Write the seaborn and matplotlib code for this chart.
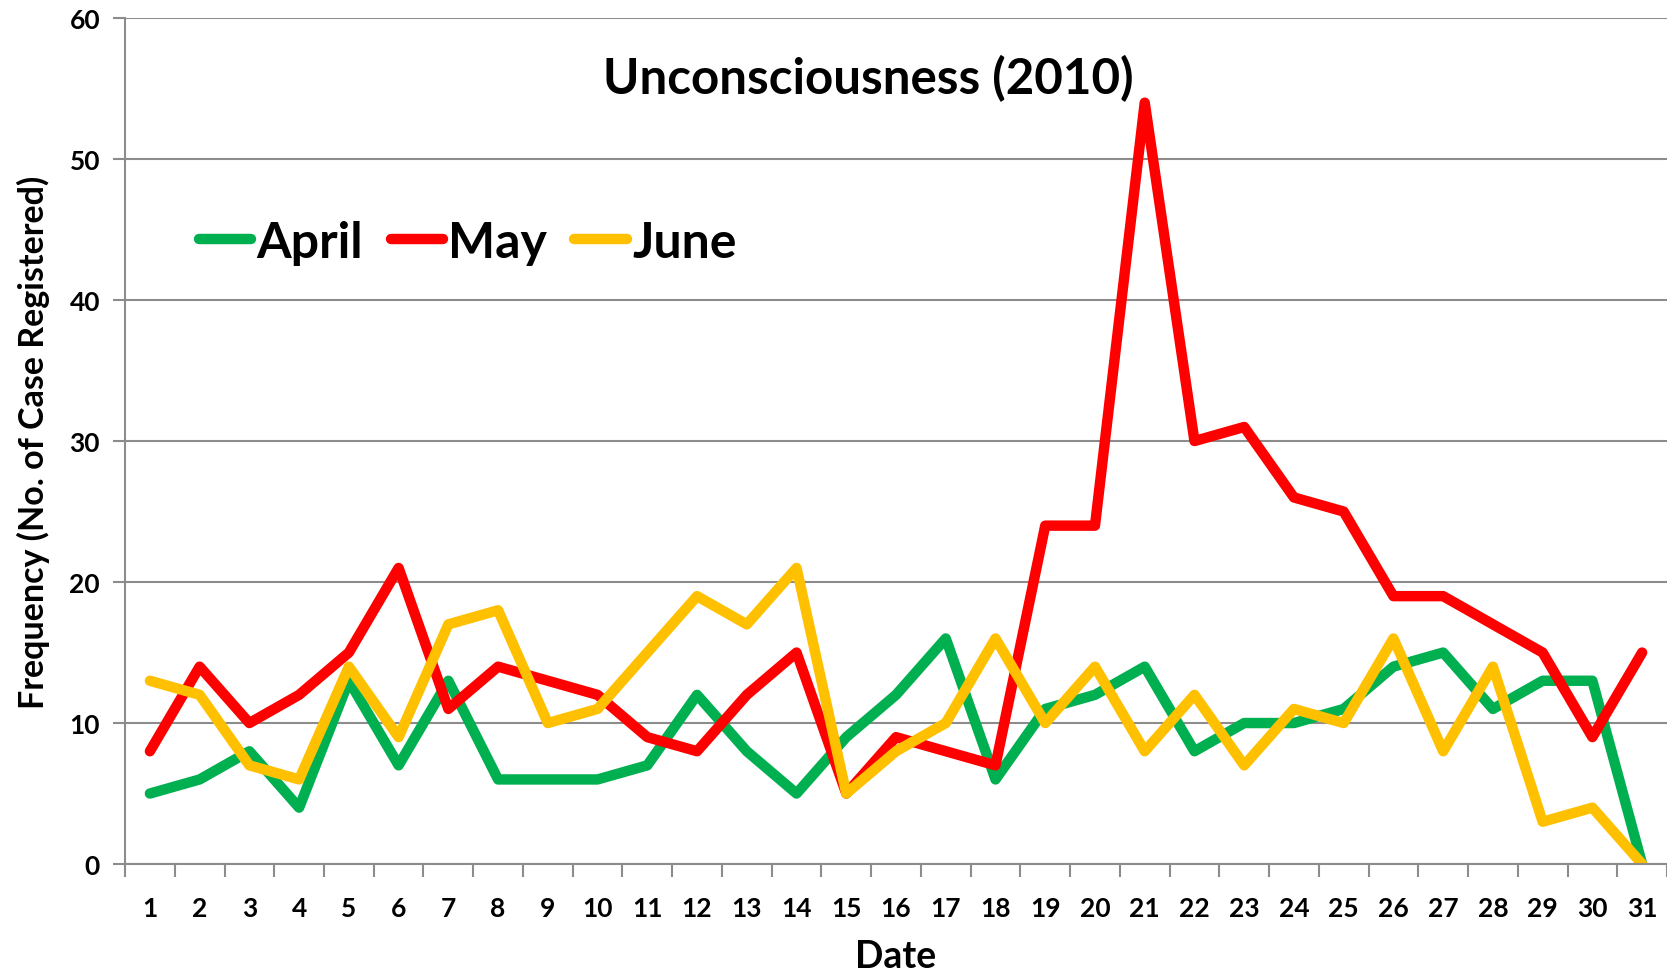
import numpy as np
import pandas as pd
import matplotlib
matplotlib.use("Agg")
import matplotlib.pyplot as plt
import seaborn as sns

days = list(range(1, 32))
april = [5, 6, 8, 4, 13, 7, 13, 6, 6, 6, 7, 12, 8, 5, 9, 12, 16, 6, 11, 12,
         14, 8, 10, 10, 11, 14, 15, 11, 13, 13, 0]
may = [8, 14, 10, 12, 15, 21, 11, 14, 13, 12, 9, 8, 12, 15, 5, 9, 8, 7, 24, 24,
       54, 30, 31, 26, 25, 19, 19, 17, 15, 9, 15]
june = [13, 12, 7, 6, 14, 9, 17, 18, 10, 11, 15, 19, 17, 21, 5, 8, 10, 16, 10, 14,
        8, 12, 7, 11, 10, 16, 8, 14, 3, 4, 0]
months = ["April", "May", "June"]
colors = ["#00B050", "#FF0000", "#FFC000"]

df = pd.DataFrame({
    "Date": days * 3,
    "Frequency": april + may + june,
    "Month": np.repeat(months, len(days)),
})

sns.set_style("white")
plt.rcParams["font.family"] = ["Lato", "DejaVu Sans"]
plt.rcParams["font.weight"] = "bold"
plt.rcParams["text.color"] = "black"
plt.rcParams["axes.labelcolor"] = "black"
plt.rcParams["xtick.labelcolor"] = "black"
plt.rcParams["ytick.labelcolor"] = "black"

fig = plt.figure(figsize=(16.67, 9.78), dpi=100)
ax = fig.add_axes([0.075, 0.1155, 0.925, 0.865])

sns.lineplot(data=df, x="Date", y="Frequency", hue="Month", hue_order=months,
             palette=colors, linewidth=7.5, ax=ax,
             solid_capstyle="round", solid_joinstyle="round")

ax.set_xlim(0.5, 31.5)
ax.set_ylim(0, 60)
ax.set_yticks(range(0, 61, 10))
ax.set_xticks(days)
ax.set_xticks(np.arange(0.5, 32, 1), minor=True)
ax.tick_params(axis="x", which="major", length=0, pad=23, labelsize=19,
               labelcolor="black")
ax.tick_params(axis="x", which="minor", length=9, width=1.5, color="#8c8c8c",
               direction="out", bottom=True)
ax.tick_params(axis="y", length=9, width=1.5, color="#8c8c8c", pad=9,
               labelsize=19, left=True, labelcolor="black")
for lab in ax.get_xticklabels() + ax.get_yticklabels():
    lab.set_fontweight("bold")

ax.grid(axis="y", color="#8c8c8c", linewidth=1.5)
ax.set_axisbelow(True)
for s in ["top", "right"]:
    ax.spines[s].set_visible(False)
for s in ["left", "bottom"]:
    ax.spines[s].set_color("#8c8c8c")
    ax.spines[s].set_linewidth(1.5)

ax.set_xlabel("Date", fontsize=27, fontweight="bold", labelpad=14,
              color="black")
ax.set_ylabel("Frequency (No. of Case Registered)", fontsize=24.5,
              fontweight="bold", labelpad=14, color="black")
ax.text(0.482, 0.93, "Unconsciousness (2010)", transform=ax.transAxes,
        ha="center", va="center", fontsize=35.5, fontweight="bold",
        color="black")

leg = ax.legend(loc="upper left", bbox_to_anchor=(0.035, 0.785), ncol=3,
                frameon=False, fontsize=36, handlelength=1.05,
                handletextpad=0.1, columnspacing=0.55, borderaxespad=0)
for t in leg.get_texts():
    t.set_fontweight("bold")
    t.set_color("black")
for h in leg.get_lines():
    h.set_linewidth(7.5)
    h.set_solid_capstyle("round")

fig.savefig("out.png", dpi=100)
